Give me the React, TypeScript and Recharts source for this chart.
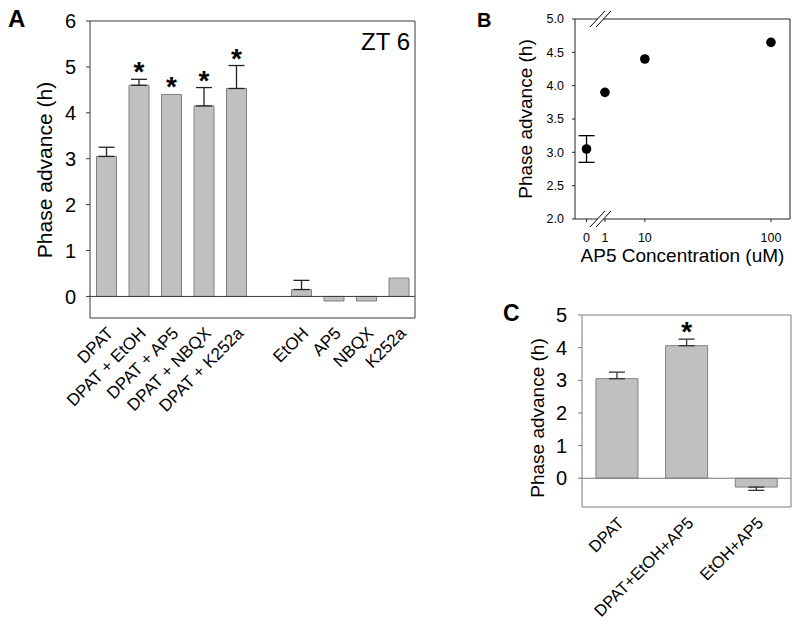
import React from "react";
import {
  BarChart,
  Bar,
  ScatterChart,
  Scatter,
  XAxis,
  YAxis,
  ErrorBar,
  ReferenceLine,
  Rectangle,
  CartesianGrid,
} from "recharts";

const FONT = '"Liberation Sans", Arial, Helvetica, sans-serif';

// Panel A - phase advance at ZT 6
const treatmentsA = [
  "DPAT",
  "DPAT + EtOH",
  "DPAT + AP5",
  "DPAT + NBQX",
  "DPAT + K252a",
  "",
  "EtOH",
  "AP5",
  "NBQX",
  "K252a",
];
const advanceA = [3.05, 4.6, 4.4, 4.15, 4.53, null, 0.15, -0.1, -0.1, 0.4];
const semA = [0.2, 0.13, null, 0.4, 0.5, null, 0.2, null, null, null];
const sigA = [false, true, true, true, true, false, false, false, false, false];
const yTicksA = [0, 1, 2, 3, 4, 5, 6];

// Panel B - AP5 dose response
const ap5Conc = [0, 1, 10, 100];
const advanceB = [3.05, 3.9, 4.4, 4.65];
const semB = [0.2, 0, 0, 0];
const xTicksB = [0, 1, 10, 100];
const yTicksB = [2, 2.5, 3, 3.5, 4, 4.5, 5];

// Panel C
const treatmentsC = ["DPAT", "DPAT+EtOH+AP5", "EtOH+AP5"];
const advanceC = [3.05, 4.06, -0.27];
const semC = [0.2, 0.2, 0.1];
const sigC = [false, true, false];
const yTicksC = [0, 1, 2, 3, 4, 5];

const toErr = (v: number | null, e: number | null) => {
  if (v == null || e == null) return null;
  return v >= 0 ? [0, e] : [e, 0];
};

const dataA = treatmentsA.map((name, i) => ({
  name,
  value: advanceA[i],
  err: toErr(advanceA[i], semA[i]),
  sig: sigA[i],
}));

const dataB = ap5Conc.map((conc, i) => ({
  conc,
  adv: advanceB[i],
  err: semB[i],
}));

const dataC = treatmentsC.map((name, i) => ({
  name,
  value: advanceC[i],
  err: toErr(advanceC[i], semC[i]),
  sig: sigC[i],
}));

const GrayBar = (props: any) => {
  const { x, y, width, height, payload } = props;
  if (payload == null || payload.value == null) return null;
  let star = null;
  if (payload.sig && payload.value > 0 && height) {
    const perUnit = Math.abs(height) / payload.value;
    const up = payload.err ? payload.err[1] * perUnit : 0;
    const top = Math.min(y, y + height) - up;
    star = (
      <text
        x={x + width / 2}
        y={top + 2}
        textAnchor="middle"
        fontSize={28}
        fontWeight="bold"
        fill="#000"
      >
        *
      </text>
    );
  }
  return (
    <g>
      <Rectangle
        x={x}
        y={y}
        width={width}
        height={height}
        fill="#c0c0c0"
        stroke="#808080"
        strokeWidth={1}
      />
      {star}
    </g>
  );
};

const SlantTick = (props: any) => {
  const { x, y, payload, size, shift } = props;
  const tx = x + shift;
  return (
    <text
      x={tx}
      y={y}
      transform={`rotate(-45 ${tx} ${y})`}
      textAnchor="end"
      dy="0.35em"
      fontSize={size}
      fill="#000"
    >
      {payload.value}
    </text>
  );
};

const BlackDot = (props: any) => (
  <circle cx={props.cx} cy={props.cy} r={4.8} fill="#000" />
);

// top and right edges of the plot frame
const topEdge = ({ offset }: any) => [offset.top];
const rightEdge = ({ offset }: any) => [offset.left + offset.width];

const AX_A = "#3a3a3a";
const AX_B = "#222";
const AX_C = "#7a7a7a";

const App = () => {
  return (
    <div
      style={{
        position: "absolute",
        left: 0,
        top: 0,
        width: 800,
        height: 623,
        background: "#fff",
        fontFamily: FONT,
      }}
    >
      {/* A */}
      <div style={{ position: "absolute", left: 0, top: 0 }}>
        <BarChart
          width={430}
          height={450}
          data={dataA}
          margin={{ top: 21, right: 15, bottom: 0, left: 0 }}
          barCategoryGap="20%"
        >
          <CartesianGrid
            stroke={AX_A}
            horizontalCoordinatesGenerator={topEdge}
            verticalCoordinatesGenerator={rightEdge}
          />
          <XAxis
            dataKey="name"
            interval={0}
            height={132}
            tickLine={false}
            tickSize={0}
            tickMargin={12}
            axisLine={{ stroke: AX_A }}
            tick={<SlantTick size={17} shift={4} />}
          />
          <YAxis
            domain={[-0.47, 6]}
            ticks={yTicksA}
            width={90}
            tickSize={4}
            tickMargin={10}
            axisLine={{ stroke: AX_A }}
            tickLine={{ stroke: AX_A }}
            tick={{ fontSize: 20, fill: "#000" }}
          />
          <ReferenceLine y={0} stroke={AX_A} />
          <Bar dataKey="value" shape={<GrayBar />} isAnimationActive={false}>
            <ErrorBar
              dataKey="err"
              direction="y"
              width={8}
              stroke="#222"
              strokeWidth={1.3}
            />
          </Bar>
        </BarChart>
      </div>

      {/* B */}
      <div style={{ position: "absolute", left: 470, top: 0 }}>
        <ScatterChart
          width={330}
          height={300}
          margin={{ top: 19, right: 10, bottom: 0, left: 0 }}
        >
          <CartesianGrid
            stroke={AX_B}
            horizontalCoordinatesGenerator={topEdge}
            verticalCoordinatesGenerator={rightEdge}
          />
          <XAxis
            type="number"
            dataKey="conc"
            scale="sqrt"
            domain={[-0.39, 121.7]}
            ticks={xTicksB}
            allowDataOverflow
            height={81}
            tickSize={3}
            tickMargin={11}
            axisLine={{ stroke: AX_B }}
            tickLine={{ stroke: AX_B }}
            tick={{ fontSize: 12.5, fill: "#000" }}
          />
          <YAxis
            type="number"
            dataKey="adv"
            domain={[2, 5]}
            ticks={yTicksB}
            tickFormatter={(v: number) => v.toFixed(1)}
            width={105}
            tickSize={3}
            tickMargin={8}
            axisLine={{ stroke: AX_B }}
            tickLine={{ stroke: AX_B }}
            tick={{ fontSize: 12.5, fill: "#000" }}
          />
          <Scatter data={dataB} shape={<BlackDot />} isAnimationActive={false}>
            <ErrorBar
              dataKey="err"
              direction="y"
              width={8}
              stroke="#000"
              strokeWidth={1.3}
            />
          </Scatter>
        </ScatterChart>
      </div>

      {/* C */}
      <div style={{ position: "absolute", left: 470, top: 300 }}>
        <BarChart
          width={330}
          height={323}
          data={dataC}
          margin={{ top: 15, right: 9, bottom: 0, left: 0 }}
          barCategoryGap="20%"
        >
          <CartesianGrid
            stroke={AX_C}
            horizontalCoordinatesGenerator={topEdge}
            verticalCoordinatesGenerator={rightEdge}
          />
          <XAxis
            dataKey="name"
            interval={0}
            height={116}
            tickLine={false}
            tickSize={0}
            tickMargin={13}
            axisLine={{ stroke: AX_C }}
            tick={<SlantTick size={16.5} shift={4} />}
          />
          <YAxis
            domain={[-0.88, 5]}
            ticks={yTicksC}
            width={112}
            tickSize={4}
            tickMargin={11}
            axisLine={{ stroke: AX_C }}
            tickLine={{ stroke: AX_C }}
            tick={{ fontSize: 20, fill: "#000" }}
          />
          <ReferenceLine y={0} stroke={AX_C} />
          <Bar dataKey="value" shape={<GrayBar />} isAnimationActive={false}>
            <ErrorBar
              dataKey="err"
              direction="y"
              width={8}
              stroke="#333"
              strokeWidth={1.3}
            />
          </Bar>
        </BarChart>
      </div>

      {/* panel letters, titles, axis break */}
      <svg
        width={800}
        height={623}
        style={{ position: "absolute", left: 0, top: 0, pointerEvents: "none" }}
      >
        <text x={8} y={27} fontSize={24} fontWeight="bold" fill="#000">
          A
        </text>
        <text x={477} y={27} fontSize={20} fontWeight="bold" fill="#000">
          B
        </text>
        <text x={503} y={321} fontSize={23} fontWeight="bold" fill="#000">
          C
        </text>
        <text x={410} y={50} fontSize={24} textAnchor="end" fill="#000">
          ZT 6
        </text>
        <text
          x={44}
          y={170}
          fontSize={21}
          textAnchor="middle"
          dominantBaseline="central"
          transform="rotate(-90 44 170)"
          fill="#000"
        >
          Phase advance (h)
        </text>
        <text
          x={525}
          y={119}
          fontSize={19}
          textAnchor="middle"
          dominantBaseline="central"
          transform="rotate(-90 525 119)"
          fill="#000"
        >
          Phase advance (h)
        </text>
        <text x={682.5} y={262} fontSize={19} textAnchor="middle" fill="#000">
          AP5 Concentration (uM)
        </text>
        <text
          x={537}
          y={418}
          fontSize={19}
          textAnchor="middle"
          dominantBaseline="central"
          transform="rotate(-90 537 418)"
          fill="#000"
        >
          Phase advance (h)
        </text>
        {[19, 219].map((yy) => (
          <g key={yy}>
            <polygon
              points={`${590},${yy + 8} ${605},${yy - 8} ${611},${yy - 8} ${596},${yy + 8}`}
              fill="#fff"
            />
            <line x1={590} y1={yy + 8} x2={605} y2={yy - 8} stroke="#000" strokeWidth={1} />
            <line x1={596} y1={yy + 8} x2={611} y2={yy - 8} stroke="#000" strokeWidth={1} />
          </g>
        ))}
      </svg>
    </div>
  );
};

export default App;
